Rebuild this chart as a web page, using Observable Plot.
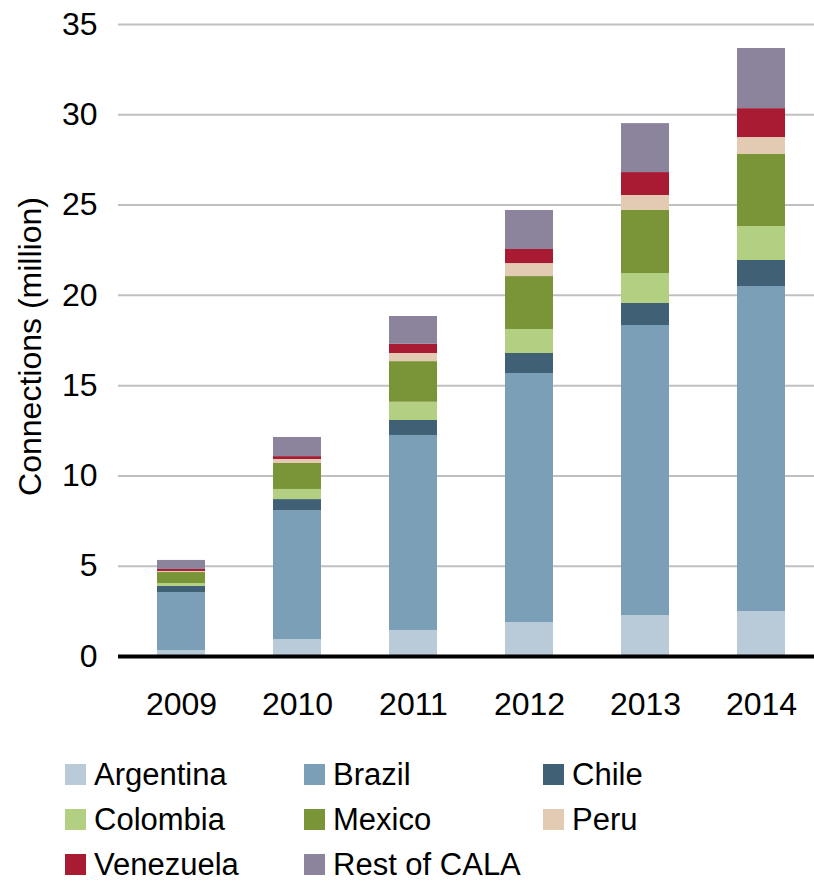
<!DOCTYPE html>
<html>
<head>
<meta charset="utf-8">
<script src="https://cdn.jsdelivr.net/npm/d3@7"></script>
<script src="https://cdn.jsdelivr.net/npm/@observablehq/plot@0.6"></script>
<style>
  html, body { margin: 0; padding: 0; background: #fff; overflow: hidden; }
  body { width: 814px; height: 883px; font-family: "Liberation Sans", Arial, sans-serif; }
  #chart svg { display: block; }
  #legend {
    position: relative;
    margin-top: 17px;
    padding-left: 65px;
    display: grid;
    grid-template-columns: 239px 239px 239px;
    grid-auto-rows: 45px;
  }
  .item { display: flex; align-items: center; font-size: 31px; line-height: 28px; color: #000; white-space: nowrap; }
  .item span.t { display: inline-block; line-height: 28px; height: 28px; }
  .sw { width: 21px; height: 21px; margin-right: 8px; flex: none; }
</style>
</head>
<body>
<div id="chart"></div>
<div id="legend"></div>
<script>
const years = ["2009", "2010", "2011", "2012", "2013", "2014"];
const seriesNames = ["Argentina", "Brazil", "Chile", "Colombia", "Mexico", "Peru", "Venezuela", "Rest of CALA"];
const seriesColors = ["#b9cad8", "#7a9fb7", "#3f6075", "#b3cf82", "#7a9537", "#e3cab2", "#a81b33", "#8c849c"];

const argentina = [0.33, 0.94, 1.44, 1.88, 2.27, 2.49];
const brazil    = [3.21, 7.14, 10.80, 13.79, 16.06, 18.00];
const chile     = [0.34, 0.61, 0.83, 1.11, 1.22, 1.44];
const colombia  = [0.16, 0.56, 1.01, 1.33, 1.66, 1.88];
const mexico    = [0.61, 1.44, 2.25, 2.93, 3.49, 3.99];
const peru      = [0.06, 0.22, 0.45, 0.72, 0.83, 0.94];
const venezuela = [0.11, 0.16, 0.51, 0.78, 1.27, 1.60];
const restOfCala = [0.50, 1.06, 1.54, 2.16, 2.71, 3.33];

const yTicks = [0, 5, 10, 15, 20, 25, 30, 35];
const yTitle = "Connections (million)";

const seriesValues = [argentina, brazil, chile, colombia, mexico, peru, venezuela, restOfCala];
const table = [];
seriesNames.forEach((name, i) => {
  years.forEach((year, j) => {
    table.push({year, country: name, value: seriesValues[i][j]});
  });
});

const chart = Plot.plot({
  width: 814,
  height: 735,
  marginLeft: 118,
  marginRight: 0,
  marginTop: 24,
  marginBottom: 79,
  style: {fontFamily: "'Liberation Sans', Arial, sans-serif", fontSize: "32px", color: "#000", background: "white"},
  x: {domain: years, paddingInner: 0.589, paddingOuter: 0.274, align: 0.578, label: null},
  y: {domain: [0, 35], label: null},
  color: {domain: seriesNames, range: seriesColors},
  marks: [
    Plot.ruleY(yTicks.filter(d => d > 0), {stroke: "#c0c0c0", strokeWidth: 2}),
    Plot.barY(table, {x: "year", y: "value", fill: "country"}),
    Plot.ruleY([0], {stroke: "#000", strokeWidth: 4}),
    Plot.axisY({ticks: yTicks, tickSize: 0, tickPadding: 21, fontSize: 32, label: null}),
    Plot.axisX({tickSize: 0, tickPadding: 36, fontSize: 32, label: null}),
    Plot.text([yTitle], {text: d => d, frameAnchor: "left", textAnchor: "middle", dx: -88, dy: 6, rotate: -90, fontSize: 32, fill: "#000"})
  ]
});
document.getElementById("chart").appendChild(chart);

const legend = document.getElementById("legend");
seriesNames.forEach((name, i) => {
  const item = document.createElement("div");
  item.className = "item";
  const sw = document.createElement("span");
  sw.className = "sw";
  sw.style.background = seriesColors[i];
  item.appendChild(sw);
  const t = document.createElement("span");
  t.className = "t";
  t.textContent = name;
  item.appendChild(t);
  legend.appendChild(item);
});
</script>
</body>
</html>
